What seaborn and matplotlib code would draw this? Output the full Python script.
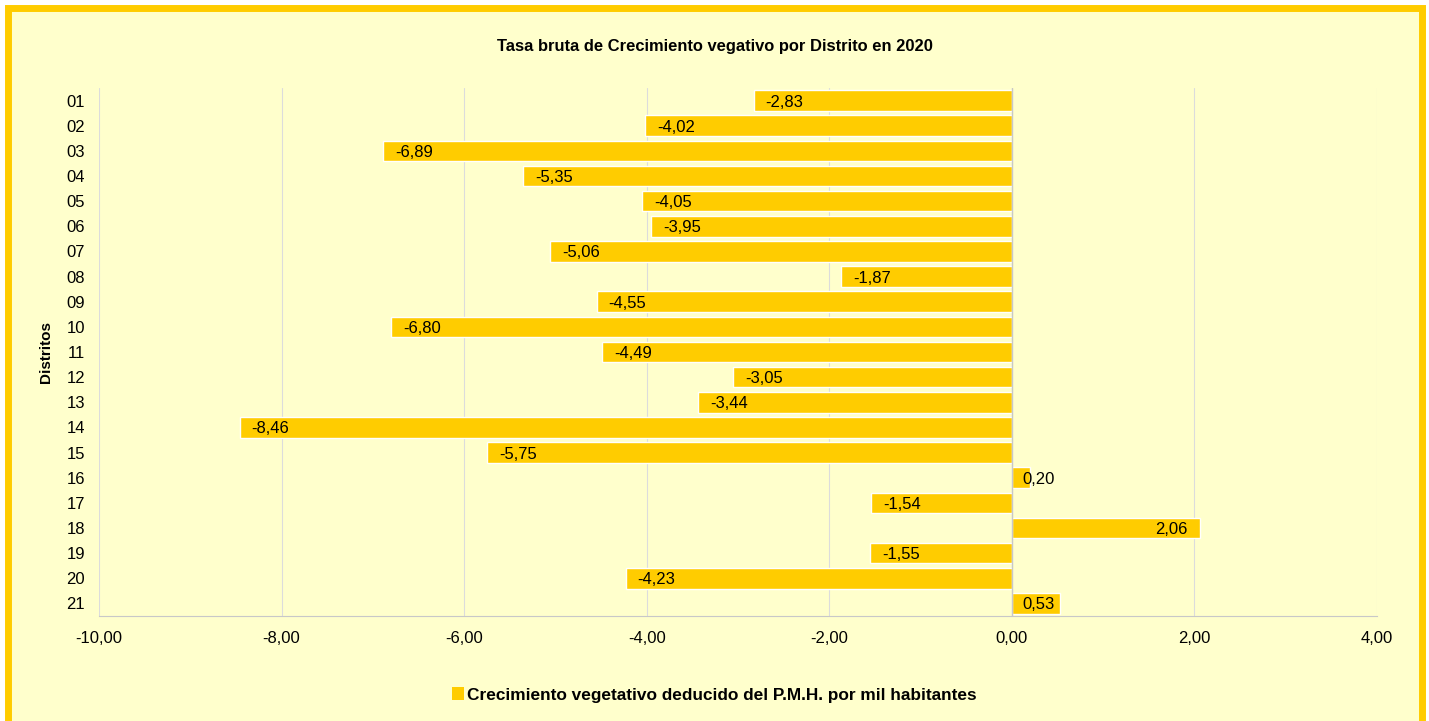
import pandas as pd
import matplotlib.pyplot as plt
import seaborn as sns
from matplotlib.patches import Rectangle, Patch

distritos = ['01', '02', '03', '04', '05', '06', '07', '08', '09', '10', '11',
             '12', '13', '14', '15', '16', '17', '18', '19', '20', '21']
crecimiento = [-2.83, -4.02, -6.89, -5.35, -4.05, -3.95, -5.06, -1.87, -4.55, -6.80, -4.49,
               -3.05, -3.44, -8.46, -5.75, 0.20, -1.54, 2.06, -1.55, -4.23, 0.53]
x_ticks = [-10, -8, -6, -4, -2, 0, 2, 4]

df = pd.DataFrame({'Distrito': distritos, 'Valor': crecimiento})

bg = '#FFFFCC'
gold = '#FFCC00'

sns.set_style('white')
plt.rcParams['font.family'] = ['Liberation Sans', 'DejaVu Sans']
plt.rcParams['text.color'] = 'black'
plt.rcParams['axes.labelcolor'] = 'black'
plt.rcParams['xtick.labelcolor'] = 'black'
plt.rcParams['ytick.labelcolor'] = 'black'

fig = plt.figure(figsize=(14.29, 7.21), dpi=100, facecolor='white')
# yellow panel with thick gold border (drawn behind the axes)
fig.patches.append(Rectangle((8 / 1429, -0.05), (1422 - 8) / 1429, 1 - 8 / 721 + 0.05,
                             transform=fig.transFigure, facecolor=bg, edgecolor=gold,
                             linewidth=5, zorder=-1))

ax = fig.add_axes([99 / 1429, 1 - 616 / 721, (1377 - 99) / 1429, (616 - 88) / 721])
ax.set_facecolor(bg)

sns.barplot(data=df, x='Valor', y='Distrito', orient='h', color=gold, saturation=1,
            width=0.82, ax=ax, zorder=2)

ax.set_xlim(-10, 4)
ax.set_ylim(20.5, -0.5)
ax.set_xticks(x_ticks)
ax.set_xticklabels([f'{t:.2f}'.replace('.', ',') for t in x_ticks], fontsize=12)
ax.tick_params(axis='x', length=5, color='#c8c8c8', pad=6)
ax.tick_params(axis='y', length=0, labelsize=12, pad=10)
ax.grid(axis='x', color='#dcdcdc', linewidth=0.8, zorder=0)
ax.axvline(0, color='#c8c8c8', linewidth=1, zorder=3)

for s in ['top', 'right', 'left']:
    ax.spines[s].set_visible(False)
ax.spines['bottom'].set_color('#c8c8c8')

ax.set_xlabel('')
ax.set_ylabel('Distritos', fontsize=11, fontweight='bold', labelpad=10)

for i, v in enumerate(crecimiento):
    txt = f'{v:.2f}'.replace('.', ',')
    if v < 0:
        ax.annotate(txt, (v, i), xytext=(12, 0), textcoords='offset pixels',
                    ha='left', va='center_baseline', fontsize=12, zorder=4)
    else:
        ax.annotate(txt, (max(v, 0.6), i), xytext=(-12, 0), textcoords='offset pixels',
                    ha='right', va='center_baseline', fontsize=12, zorder=4)

fig.text(0.5, 1 - 46 / 721, 'Tasa bruta de Crecimiento vegativo por Distrito en 2020',
         ha='center', va='center', fontsize=11.9, fontweight='bold')

fig.legend(handles=[Patch(facecolor=gold, edgecolor='none',
                          label='Crecimiento vegetativo deducido del P.M.H. por mil habitantes')],
           loc='center', bbox_to_anchor=(0.5, 1 - 695 / 721), frameon=False,
           handlelength=0.7, handleheight=0.7, handletextpad=0.2,
           prop={'size': 12.4, 'weight': 'bold'})

fig.savefig('out.png', dpi=100, facecolor='white')
